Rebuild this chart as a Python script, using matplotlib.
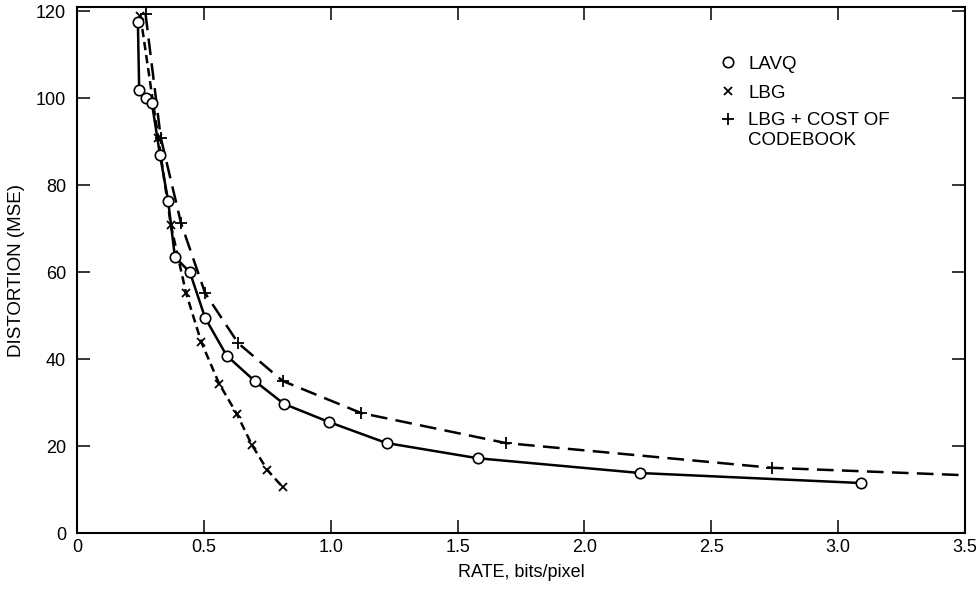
import matplotlib
matplotlib.use("Agg")
import matplotlib.pyplot as plt

# values (rate in bits/pixel, distortion in MSE)
lavq_rate = [0.24, 0.245, 0.27, 0.295, 0.327, 0.359, 0.386, 0.445, 0.505,
             0.59, 0.70, 0.816, 0.995, 1.22, 1.58, 2.22, 3.09]
lavq_mse = [117.5, 102, 100, 99, 87, 76.5, 63.5, 60, 49.5,
            40.8, 35, 29.7, 25.5, 20.7, 17.2, 13.8, 11.5]

lbg_rate = [0.25, 0.32, 0.37, 0.43, 0.49, 0.56, 0.63, 0.69, 0.75, 0.81]
lbg_mse = [119, 91, 70.8, 55.2, 43.9, 34.4, 27.4, 20.2, 14.5, 10.6]

cost_rate = [0.27, 0.33, 0.41, 0.505, 0.635, 0.81, 1.12, 1.69, 2.74, 4.7]
cost_mse = [119.5, 91, 71.3, 55.2, 43.7, 35, 27.6, 20.7, 15, 10.6]

xticks = [0, 0.5, 1.0, 1.5, 2.0, 2.5, 3.0, 3.5]
xticklabels = ['0', '0.5', '1.0', '1.5', '2.0', '2.5', '3.0', '3.5']
yticks = [0, 20, 40, 60, 80, 100, 120]

plt.rcParams['font.family'] = ['Liberation Sans', 'DejaVu Sans']
plt.rcParams['lines.scale_dashes'] = False

fig = plt.figure(figsize=(9.76, 5.95), dpi=100)
ax = fig.add_axes([0.0789, 0.1042, 0.9098, 0.8838])

ax.plot(lavq_rate, lavq_mse, color='black', lw=1.8, marker='o', ms=7.5,
        mfc='white', mec='black', mew=1.2, zorder=4)
ax.plot(lbg_rate, lbg_mse, color='black', lw=1.8, dashes=(6, 3.5),
        marker='x', ms=5.5, mew=1.3, zorder=3)
ax.plot(cost_rate, cost_mse, color='black', lw=1.8, dashes=(12, 6),
        marker='+', ms=9, mew=1.3, zorder=3)

ax.set_xlim(0, 3.5)
ax.set_ylim(0, 121)
ax.set_xticks(xticks)
ax.set_xticklabels(xticklabels)
ax.set_yticks(yticks)
ax.tick_params(direction='in', length=9.5, width=1.1, labelsize=13,
               top=True, right=True, color='black')
ax.tick_params(axis='x', pad=4)
ax.tick_params(axis='y', pad=8)
for s in ax.spines.values():
    s.set_linewidth(1.5)

ax.set_xlabel('RATE, bits/pixel', fontsize=13, labelpad=6)
ax.set_ylabel('DISTORTION (MSE)', fontsize=13.5, labelpad=8)

# legend drawn by hand: marker column + text column
tr = ax.transAxes
ax.plot([0.733], [0.895], transform=tr, marker='o', ms=7.5, mfc='white',
        mec='black', mew=1.2, ls='none', clip_on=False)
ax.plot([0.733], [0.840], transform=tr, marker='x', ms=5.5, mew=1.3,
        color='black', ls='none', clip_on=False)
ax.plot([0.733], [0.787], transform=tr, marker='+', ms=9, mew=1.3,
        color='black', ls='none', clip_on=False)
ax.text(0.756, 0.883, 'LAVQ', transform=tr, fontsize=13.5, va='baseline')
ax.text(0.756, 0.828, 'LBG', transform=tr, fontsize=13.5, va='baseline')
ax.text(0.756, 0.775, 'LBG + COST OF', transform=tr, fontsize=13.5,
        va='baseline')
ax.text(0.756, 0.737, 'CODEBOOK', transform=tr, fontsize=13.5,
        va='baseline')

fig.savefig('out.png', dpi=100)
